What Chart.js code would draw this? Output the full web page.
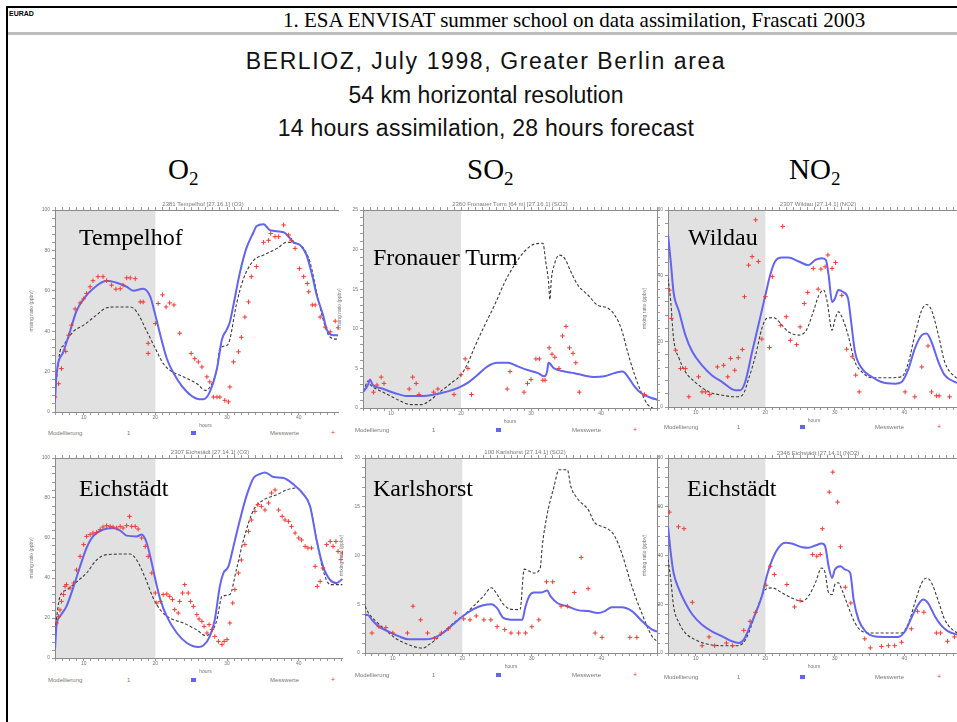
<!DOCTYPE html>
<html><head><meta charset="utf-8">
<script src="https://cdn.jsdelivr.net/npm/chart.js@4/dist/chart.umd.min.js"></script>
<style>
html,body{margin:0;padding:0;background:#fff;width:957px;height:722px;overflow:hidden;}
body{position:relative;font-family:"Liberation Sans",Arial,sans-serif;}
.abs{position:absolute;white-space:nowrap;}
.serif{font-family:"Liberation Serif","Times New Roman",serif;}
.tiny{font-size:6px;color:#777;font-family:"Liberation Sans",Arial,sans-serif;}
.clip{position:absolute;overflow:hidden;}
.clip canvas{position:absolute;left:0;top:0;}
</style></head>
<body>
<div class="abs" style="left:6px;top:6px;width:951px;height:2px;background:#000"></div>
<div class="abs" style="left:6px;top:6px;width:2px;height:716px;background:#000"></div>
<div class="abs" style="left:8px;top:32px;width:949px;height:3px;background:#bdbdbd"></div>
<div class="abs" style="left:9px;top:10px;font-size:7px;font-weight:bold;color:#000">EURAD</div>
<div class="abs serif" style="left:283px;top:8px;font-size:21px;line-height:24px;color:#000">1. ESA ENVISAT summer school on data assimilation, Frascati 2003</div>

<div class="abs" style="left:0;width:972px;top:48px;font-size:23px;letter-spacing:1.6px;text-align:center;color:#111">BERLIOZ, July 1998, Greater Berlin area</div>
<div class="abs" style="left:0;width:972px;top:82px;font-size:23px;text-align:center;color:#111">54 km horizontal resolution</div>
<div class="abs" style="left:0;width:972px;top:115px;font-size:23px;letter-spacing:0.25px;text-align:center;color:#111">14 hours assimilation, 28 hours forecast</div>

<div class="abs serif" style="left:168px;top:153px;font-size:29px;color:#000">O<sub style="font-size:19px;vertical-align:-6px">2</sub></div>
<div class="abs serif" style="left:467px;top:153px;font-size:29px;color:#000">SO<sub style="font-size:19px;vertical-align:-6px">2</sub></div>
<div class="abs serif" style="left:789px;top:153px;font-size:29px;color:#000">NO<sub style="font-size:19px;vertical-align:-6px">2</sub></div>

<div id="stage"></div>

<script>
// ---------- shared axis values ----------
const hourRange = [6, 48];
const hourTicks = [10, 20, 30, 40];
const assimStart = 6;
const assimEnd = 20;
const o3Ticks = [0, 20, 40, 60, 80, 100];
const so2TicksTop = [0, 5, 10, 15, 20, 25];
const no2TicksTop = [0, 20, 40, 60];
const so2TicksBottom = [0, 5, 10, 15, 20];
const no2TicksBottom = [0, 20, 40, 60, 80];

const stationNames = ["Tempelhof", "Fronauer Turm", "Wildau", "Eichstädt", "Karlshorst", "Eichstädt"];
const chartTitles = ["2381 Tempelhof [27.16.1] (O3)", "2360 Fronauer Turm [64 m] [27.16.1] (SO2)", "2307 Wildau [27.14.1] (NO2)",
                     "2307 Eichstädt [27.14.1] (O3)", "100 Karlshorst [27.14.1] (SO2)", "2346 Eichstädt [27.14.1] (NO2)"];
const legendLabels = ["Modellierung", "1", "Messwerte"];
const xTitle = "hours";
const yTitle = "mixing ratio (ppbv)";

// ---------- Tempelhof O3 ----------
const tempelhofModel = [[6,10],[6.7,30],[7.2,33],[8.6,40],[10,43],[11.8,48],[13.2,51.6],[14.6,52],[16.5,52],[17.4,49.6],[18.8,40],[20.2,30],[21.1,24],[22,20.7],[23.9,17.4],[25.8,14],[27,10.7],[27.9,14],[28.6,21.5],[29,31.4],[30,33],[30.4,36],[31.3,53],[32.3,66],[33.7,75],[35.1,77.7],[37,81],[38.3,84],[39.7,83.5],[40.7,81],[41.6,74],[42.5,59.5],[43.4,46],[44.4,37],[45.5,36]];
const tempelhofAssim = [[6,5],[6.2,18],[7.2,30],[8.1,40],[9,50],[10,56],[11.3,61],[13.2,65],[14.6,64],[16,62],[16.9,60],[18.3,61],[19.3,57],[20,48],[20.7,38],[21.6,26.5],[23,16.5],[24.4,10],[25.8,6.6],[26.7,6.3],[27.6,10],[28.6,21.5],[29.3,36],[30,41],[30.4,44.6],[30.9,53],[31.8,69],[32.7,81],[33.7,89],[34.1,92],[35.1,93],[36,90],[37.9,89],[39.3,84],[40.2,82.6],[41.1,77.7],[42,66],[42.5,58],[43.4,48],[43.9,41],[44.8,38],[45.5,38]];
const tempelhofObs = [[6,7.4],[6.5,14],[6.9,21.5],[7.5,30],[7.9,38],[8.3,43],[8.8,51],[9.5,54],[10,56],[10.4,58.7],[10.9,62],[11.3,65],[12,67],[12.7,67],[13.2,65],[13.9,62.8],[14.5,60.8],[15.1,61],[15.5,62.8],[16,66.4],[16.5,66.4],[17.2,66],[17.9,54.5],[18.3,54.5],[19,34],[19,29],[20,43.8],[20.4,53.7],[21,58],[21.5,52],[22,54],[22.6,53],[23.4,39],[25,29],[25.5,26.4],[26,24.8],[26.5,22.3],[27.2,17.4],[27.6,14.9],[28.1,7.4],[28.6,7.4],[29,7.4],[29.7,5.8],[30.2,5],[30.4,12.4],[30.9,24.8],[31.6,29.8],[32,37],[32.5,47],[33,54.5],[33.4,67],[34.1,72],[35.1,84],[35.8,85],[36.1,88.4],[36.7,86.8],[37.2,86.8],[37.9,92.6],[38.6,87.6],[39,85],[39.5,81],[40.1,71],[40.7,67],[41.2,63.6],[41.4,59.5],[41.9,53],[42.3,53],[43,47],[43.7,42],[44.4,39.7],[45.1,45],[45.5,41.7]];

// ---------- Fronauer Turm SO2 ----------
const fronauModel = [[6.1,2.1],[6.7,3.4],[7.1,2.9],[8.6,2.1],[10,1.5],[11.4,0.84],[12.9,0.42],[14.3,0.42],[15.7,1.05],[17.1,2.1],[18.6,3.15],[20,4.2],[21,5.7],[21.9,7.6],[23.3,10.3],[24.8,13],[26.2,15.8],[27.6,18],[29,19.7],[30.5,20.7],[31.7,20.8],[32.1,18.5],[32.5,16],[32.7,13.7],[32.9,16.2],[33.3,18],[34,19.3],[34.8,18.9],[35.7,17.2],[36.7,15.5],[38.1,14.3],[39.5,13],[41,12.6],[41.9,11.8],[42.9,10],[43.8,7.1],[44.8,4.2],[45.7,2.1],[46.7,0.4],[47.4,0]];
const fronauAssim = [[6.1,2.1],[6.7,2.9],[7,3.6],[7.4,2.9],[8.6,2.5],[10.5,1.9],[12.4,1.5],[14.3,1.5],[16.2,1.7],[18.1,2.1],[19.5,2.5],[21,3.2],[22.4,4.2],[23.8,5.25],[25.2,5.7],[26.7,5.7],[28.1,5.25],[29.5,4.8],[31,4.4],[31.9,4],[32.3,4.6],[32.5,5.7],[33.3,5],[34.8,4.6],[36.2,4.4],[37.6,4.1],[39,3.9],[40.5,4],[41.9,4.4],[43.1,4.6],[43.8,4],[44.8,2.7],[45.7,1.9],[47.1,1.3],[48,1.05]];
const fronauObs = [[7.5,2],[8,2.9],[8.6,3.9],[9,3.1],[12.6,2.4],[13.1,3.9],[13.6,3.1],[14,1.7],[16.1,2],[16.7,2.4],[19,1.7],[20,4.2],[20.6,6.2],[21,5],[21.5,1.7],[26.6,2.4],[27,4.6],[29,2],[29.5,3.1],[30,3.6],[30.7,6.2],[31.2,6.2],[31.7,3.5],[32,3.5],[32.6,7.6],[33,6.8],[33.4,6.4],[34,5],[34.5,9.1],[35,10.3],[35.5,7.6],[36,6.9],[36.4,5.7],[36.9,2],[46.2,1.7]];

// ---------- Wildau NO2 ----------
const wildauModel = [[6,39.2],[6.4,32],[6.8,20.9],[7.6,14.8],[8.5,10.7],[9.9,7.6],[11.9,4.6],[13.8,3.6],[15.7,3.1],[16.7,3.6],[17.6,8.6],[18.6,15.8],[19.5,23.9],[20.2,27],[21.2,27.2],[22.2,25.4],[23.3,22.9],[24.8,21.9],[25.9,23.4],[26.9,29],[27.7,34],[28.4,35.6],[28.9,32],[29.6,23.4],[30,26.5],[30.5,29],[31.2,26.5],[31.9,21.9],[32.9,13.7],[33.9,10.7],[35.3,8.9],[37.7,8.9],[39.6,9.2],[40.6,13.7],[41.5,21.9],[42.5,29.5],[43.2,31.2],[43.9,29.5],[44.9,21.9],[45.8,13.7],[47.3,9.2],[48,8.5]];
const wildauAssim = [[6,52.4],[6.4,44.3],[6.8,35],[7.6,29],[8.5,21.9],[9.5,16.8],[10.9,12.7],[12.3,9.7],[13.8,7.6],[15.7,5.1],[16.4,5.1],[17.1,7.6],[18.1,16.8],[19,24.9],[20,34],[20.7,40.2],[21.4,44.3],[22.4,45.5],[23.3,45.5],[24.8,44.3],[26.2,43.2],[27.2,44.8],[28.1,45.3],[28.7,44.8],[29.1,40.2],[29.6,32],[30,33],[30.5,35.6],[31.2,35],[31.9,33],[32.4,24.9],[32.9,16.8],[33.9,11.7],[35.3,9.2],[36.7,7.6],[38.7,7.1],[39.6,7.6],[40.6,11.7],[41.5,17.8],[42.5,21.9],[43.2,22.4],[43.9,19.8],[44.9,13.7],[45.8,9.7],[47.3,7.6],[48,7.2]];
const wildauObs = [[6.2,35.6],[6.5,27],[7.1,17.3],[7.8,11.7],[8.5,11.7],[9,3.1],[10.4,9.2],[10.9,4.6],[11.4,4.6],[12,3.8],[13.1,12.2],[14,12.7],[14.6,9.2],[15,14.8],[15.6,11.2],[16.1,15],[16.7,17.5],[17,33.6],[17.6,43.2],[18.1,45.8],[18.6,57],[19,44.3],[19.5,20.7],[20,33.6],[20.6,18.1],[21,39.7],[22.2,24.9],[22.5,55],[23,27.5],[23.6,20.3],[24.5,19],[25,24.4],[25.6,31.5],[26.1,34.9],[26.9,42.2],[27.6,35.9],[28,42],[28.6,42.7],[29,46.3],[29.6,42.2],[30.1,44],[31,34],[31.7,17.6],[32.5,15.3],[33,9.7],[33.5,4.6],[40.1,4.6],[41.5,3.1],[42.5,12.2],[43.4,18.6],[43.9,4.6],[44.6,3.4],[45,3.4],[46.5,3.1]];

// ---------- Eichstädt O3 ----------
const eichO3Model = [[6,14],[6.7,30.8],[7.6,34],[9,38],[10.4,42.5],[11.8,49],[13.2,51.7],[16.5,52],[17.4,49],[18.6,40],[19.7,30],[20.7,24],[22,20],[23.9,17.5],[25.8,14],[27,11.2],[27.9,13.3],[28.6,19.2],[29.3,30.8],[30.4,31.7],[31.3,44],[32.3,59],[33.7,74],[35.1,79],[37,81.7],[38.3,84],[39.7,85],[40.7,81.7],[41.6,75.8],[42.5,59],[43.4,44],[44.4,36.7],[46.1,36.7]];
const eichO3Assim = [[6,4.2],[6.2,15.8],[6.7,20.8],[7.6,25.8],[8.6,35.8],[9.5,45.8],[10.4,55],[11.3,60.8],[12.7,64.2],[14.1,65],[15.1,63.7],[16,61.2],[17.4,60.8],[18.1,61.7],[18.8,57.5],[19.5,47.5],[20,39.2],[20.7,29.2],[21.6,20.8],[23,12.5],[24.4,7.5],[26,5.5],[26.7,6.2],[27.6,10.8],[28.3,19.2],[29,35.8],[29.5,42.5],[30.2,45.8],[30.9,55.8],[31.8,69],[32.7,80.8],[33.7,90],[34.6,92],[35.3,92.8],[36.5,90.5],[37.9,90],[39.3,86.7],[40.7,81.7],[41.6,75.8],[42.5,59],[43.4,45.8],[44.4,39],[45.3,37.5],[46.1,39.5]];
const eichO3Obs = [[6.2,17.5],[6.5,20.8],[6.7,24],[6.9,28.3],[7.2,31.7],[7.4,35.8],[7.6,36.7],[8.1,35],[8.6,37.5],[9,44],[9.5,50.8],[10,56.7],[10.4,60.8],[10.9,61.7],[11.3,62.5],[11.8,62.8],[12.3,64.2],[12.7,65.5],[13.2,66.2],[13.7,65.8],[14.1,65.5],[14.6,65],[15.1,65.8],[15.5,65],[16,66.2],[16.4,70.8],[16.7,65.8],[17.2,65.8],[17.6,64.5],[18.1,60],[18.6,55.8],[19,50.8],[19.5,42.5],[20,32.5],[20.2,27.5],[20.7,28.3],[21.1,31.7],[21.6,32],[22,30.8],[22.4,29.2],[22.7,24.2],[23.2,22.5],[23.4,28.3],[23.8,32.5],[24.1,36.7],[24.6,32.5],[24.9,28.3],[25.3,25.8],[25.8,21.7],[26.1,19.5],[26.5,18.3],[26.8,15.8],[27.2,12.5],[27.5,16.7],[27.9,14.2],[28.3,10.8],[28.8,8.3],[29.3,6.7],[29.6,8.3],[30,9.2],[30.4,17.5],[30.8,27.5],[31.1,34.2],[31.6,42.5],[32,49],[32.5,56.7],[33,63.3],[33.4,69],[33.9,73.3],[34.3,76.7],[34.8,75.8],[35.3,74],[35.8,77.5],[36.2,82.5],[36.7,84],[37.2,74],[37.7,70.8],[38.1,69],[38.6,68.3],[39,65.8],[39.5,62.5],[40,60],[40.4,59],[40.9,55.8],[41.3,55],[41.8,55],[42.3,45.8],[42.6,35.8],[43,38.3],[43.4,45],[43.9,56.7],[44.4,58.3],[44.8,55.8],[45.2,58.3],[45.5,53.3],[45.9,49.2],[46.1,52.5]];

// ---------- Karlshorst SO2 ----------
const karlsModel = [[6,4.8],[6.5,4.1],[7.5,3.3],[8.9,2.4],[10.4,1.5],[11.8,1.0],[13.3,0.6],[14.3,0.5],[15.2,0.86],[16.2,1.4],[17.7,2.4],[19.1,3.3],[20.1,3.8],[21.6,4.8],[23,5.8],[24.2,6.7],[25,6],[25.9,5],[26.9,4.5],[28.3,4.45],[28.9,8.6],[29.6,8.4],[30.3,8.2],[31.2,8.7],[31.5,11],[32.2,14.2],[33.2,17.1],[33.9,18.8],[35.1,18.8],[35.6,17.1],[36.6,15.8],[38.1,14.7],[39,13.4],[40,13],[41,12.7],[41.9,12],[42.9,10.3],[44.4,6.8],[45.8,4.1],[47.3,1.7],[48,1.2]];
const karlsAssim = [[6,3.9],[6.4,3.9],[7,3.4],[8,2.7],[9.4,2.2],[10.9,1.7],[12.3,1.4],[14.3,1.4],[15.7,1.5],[17.2,2.05],[18.6,2.9],[20.1,3.8],[21.6,4.5],[23,4.9],[24.2,5],[25,4.6],[25.9,3.6],[27.4,3.4],[28.6,3.4],[29.1,4.8],[29.6,5.8],[30.3,6.2],[31.3,6.2],[32.2,6.4],[32.7,5.8],[33.7,5.1],[35.1,4.8],[36.6,4.4],[38.1,4.3],[39.5,4.1],[40.5,4.3],[41.5,4.7],[42.9,4.7],[44.4,4.3],[45.8,3.3],[47.3,2.4],[48,2.2]];
const karlsObs = [[7,2.05],[8,2.7],[9,2.6],[10,2.05],[12.1,2.05],[12.9,4.8],[14,3.4],[15,2.05],[16,1.5],[17,2.05],[18,2.5],[19,4.1],[20.2,3.5],[21.1,3.4],[22,3.8],[23.1,3.4],[24.1,3.4],[25,2.7],[26.1,2.4],[27,2.05],[28.1,2.05],[29.1,2.05],[30,2.7],[31,3.4],[32.1,7.3],[33,7.3],[34.2,4.8],[35.1,4.8],[36.1,6.2],[37.1,9.8],[38.1,6.6],[39.1,2.05],[40.1,1.6],[44.1,1.6],[45.1,1.6]];

// ---------- Eichstädt NO2 ----------
const eichNO2Model = [[6,38.4],[6.4,30.1],[6.8,19.2],[7.6,12.3],[8.5,8.2],[9.9,5.5],[11.4,3.8],[13.8,3],[15.7,3],[16.7,3.8],[17.6,8.2],[18.6,16.4],[19.3,21.9],[20,26],[21,26.7],[22.4,24.7],[23.8,22.6],[25.3,21.2],[26.2,23.3],[27.2,28.8],[28.1,34.9],[28.6,32.9],[29.1,24.7],[29.6,24],[30,28.1],[30.5,28.8],[31,26],[31.9,19.2],[32.9,12.3],[33.9,8.9],[35.3,8.2],[37.7,8.2],[39.6,8.2],[40.6,12.3],[41.5,20.5],[42.5,28.8],[43.2,30.8],[43.9,28.8],[44.9,21.2],[45.8,13.7],[47.6,8.2],[48,7.8]];
const eichNO2Assim = [[6,52],[6.4,41],[6.8,32.9],[7.6,26],[8.5,20.5],[9.5,15.8],[10.9,11.6],[12.3,8.9],[13.8,6.8],[15.2,4.8],[16.2,4.1],[16.9,5.5],[17.8,11],[18.8,17.8],[19.5,23.3],[20.2,31.5],[21,38.4],[21.9,43.2],[22.9,45.2],[23.8,44.9],[25.3,43.4],[26.2,43.2],[27.2,44.1],[28.1,44.9],[28.6,43.8],[29.1,35.6],[29.6,30.8],[30,34.2],[30.8,35.6],[31.5,34.2],[32.2,32.9],[32.7,21.9],[33.4,13.7],[34.4,8.9],[35.8,6.8],[37.7,6.6],[39.1,6.6],[40.1,8.9],[41.1,15],[42,19.9],[42.7,21.9],[43.4,20.5],[44.4,15],[45.4,11],[46.3,8.9],[47.6,7.5],[48,7.2]];
const eichNO2Obs = [[6.2,57.8],[7.5,51.8],[8.3,51],[9.5,20.8],[10.9,3],[11.9,6.6],[12.7,3],[14.4,4.1],[15.3,3],[16.9,9.3],[17.8,13],[18.6,16.7],[20.1,27.8],[20.7,35.6],[21.3,32.2],[23.1,28.1],[24.2,18.9],[25,21.5],[26.8,40.4],[27.4,39.7],[27.9,40.4],[28.2,51],[29.2,66],[29.7,74.2],[30.4,61.9],[30.8,43.6],[31.5,27],[32.3,20.5],[34.3,5.8],[35.1,2.1],[36.7,2.7],[37.7,3],[38.6,3],[39.6,4.4],[41,9.9],[41.9,17.1],[42.8,16.7],[44.6,8.2],[45.2,8.2],[46.2,4.8],[47.2,6.6]];

// ---------- layout (positions only) ----------
const WY = 26, WR = 5, HT = 5, HX = 17;
const panels = [
  {plotL:55,  plotT:210, plotW:301, plotH:202, clipR:339, yTicks:o3Ticks, minor:4, model:tempelhofModel, assim:tempelhofAssim, obs:tempelhofObs, nameX:79, nameY:224, titleX:203, titleY:201, legY:430, legXs:[48,127,191,270,331]},
  {plotL:363, plotT:210, plotW:294, plotH:198, clipR:680, yTicks:so2TicksTop, minor:1, model:fronauModel, assim:fronauAssim, obs:fronauObs, nameX:373, nameY:244, titleX:510, titleY:201, legY:427, legXs:[355,432,496,572,633]},
  {plotL:668, plotT:210, plotW:292, plotH:197, clipR:957, yTicks:no2TicksTop, minor:4, model:wildauModel, assim:wildauAssim, obs:wildauObs, nameX:688, nameY:224, titleX:818, titleY:201, legY:424, legXs:[664,737,800,875,937]},
  {plotL:55,  plotT:458, plotW:301, plotH:200, clipR:343, yTicks:o3Ticks, minor:4, model:eichO3Model, assim:eichO3Assim, obs:eichO3Obs, nameX:79, nameY:475, titleX:210, titleY:449, legY:677, legXs:[48,127,191,270,331]},
  {plotL:365, plotT:458, plotW:292, plotH:195, clipR:680, yTicks:so2TicksBottom, minor:1, model:karlsModel, assim:karlsAssim, obs:karlsObs, nameX:373, nameY:475, titleX:525, titleY:449, legY:672, legXs:[355,432,496,572,633]},
  {plotL:668, plotT:458, plotW:292, plotH:195, clipR:957, yTicks:no2TicksBottom, minor:4, model:eichNO2Model, assim:eichNO2Assim, obs:eichNO2Obs, nameX:687, nameY:475, titleX:818, titleY:450, legY:674, legXs:[664,737,800,875,937]}
];

const shadePlugin = {
  id: 'shade',
  beforeDraw(chart) {
    const {ctx, chartArea: a, scales: {x}} = chart;
    const x0 = x.getPixelForValue(assimStart), x1 = x.getPixelForValue(assimEnd);
    ctx.save();
    ctx.fillStyle = '#e1e1e1';
    ctx.fillRect(x0, a.top, x1 - x0, a.bottom - a.top);
    ctx.restore();
  }
};

const toXY = arr => arr.map(p => ({x: p[0], y: p[1]}));
const tickFont = {family: 'Liberation Sans, Arial', size: 5};
const grid = {drawOnChartArea: false, drawTicks: true, tickLength: 3, color: '#9a9a9a'};
const border = {display: true, color: '#8a8a8a', width: 1};

const stage = document.getElementById('stage');
function addText(cls, x, y, txt, style) {
  const d = document.createElement('div');
  d.className = 'abs ' + cls;
  d.style.left = x + 'px'; d.style.top = y + 'px';
  if (style) d.style.cssText += style;
  d.textContent = txt;
  stage.appendChild(d);
  return d;
}

panels.forEach((p, i) => {
  const cl = p.plotL - WY, ct = p.plotT - HT;
  const cw = WY + p.plotW + WR, ch = HT + p.plotH + HX;
  const wrap = document.createElement('div');
  wrap.className = 'clip';
  wrap.style.left = cl + 'px'; wrap.style.top = ct + 'px';
  wrap.style.width = Math.min(cw, p.clipR - cl) + 'px'; wrap.style.height = ch + 'px';
  const cv = document.createElement('canvas');
  cv.width = cw; cv.height = ch;
  wrap.appendChild(cv);
  stage.appendChild(wrap);

  const ymax = p.yTicks[p.yTicks.length - 1];
  new Chart(cv, {
    data: {
      datasets: [
        {type: 'line', data: toXY(p.model), borderColor: '#3a3a3a', borderWidth: 1.1, borderDash: [3, 2], pointRadius: 0, cubicInterpolationMode: 'monotone', order: 2},
        {type: 'line', data: toXY(p.assim), borderColor: '#6464ee', borderWidth: 2, pointRadius: 0, cubicInterpolationMode: 'monotone', order: 1},
        {type: 'scatter', data: toXY(p.obs), showLine: false, pointStyle: 'cross', pointRadius: 2.3, borderColor: '#ee3b35', backgroundColor: '#ee3b35', borderWidth: 1, order: 0}
      ]
    },
    options: {
      responsive: false, animation: false, devicePixelRatio: 1,
      layout: {padding: 0, autoPadding: false},
      plugins: {legend: {display: false}, tooltip: {enabled: false}},
      scales: {
        x: {type: 'linear', position: 'bottom', min: hourRange[0], max: hourRange[1], grid, border,
            ticks: {stepSize: 1, autoSkip: false, maxRotation: 0, font: tickFont, color: '#777', padding: 0,
                    callback: v => hourTicks.includes(v) ? String(v) : ''},
            title: {display: true, text: xTitle, font: tickFont, color: '#777', padding: 0},
            afterFit: s => { s.height = HX; }},
        x2: {type: 'linear', position: 'top', min: hourRange[0], max: hourRange[1], grid, border,
             ticks: {display: false, stepSize: 1, autoSkip: false},
             afterFit: s => { s.height = HT; }},
        y: {type: 'linear', position: 'left', min: 0, max: ymax, grid, border,
            ticks: {stepSize: p.minor, autoSkip: false, font: tickFont, color: '#777', padding: 2,
                    callback: v => p.yTicks.includes(v) ? String(v) : ''},
            title: {display: true, text: yTitle, font: tickFont, color: '#777', padding: 0},
            afterFit: s => { s.width = WY; }},
        y2: {type: 'linear', position: 'right', min: 0, max: ymax, grid, border,
             ticks: {display: false, stepSize: p.minor, autoSkip: false},
             afterFit: s => { s.width = WR; }}
      }
    },
    plugins: [shadePlugin]
  });

  // texts
  addText('serif', p.nameX, p.nameY, stationNames[i], 'font-size:24px;color:#000;');
  addText('tiny', p.titleX, p.titleY, chartTitles[i], 'transform:translateX(-50%);');
  addText('tiny', p.legXs[0], p.legY, legendLabels[0]);
  addText('tiny', p.legXs[1], p.legY, legendLabels[1]);
  addText('', p.legXs[2], p.legY + 1, '', 'width:5px;height:4px;background:#6464ee;');
  addText('tiny', p.legXs[3], p.legY, legendLabels[2]);
  addText('', p.legXs[4], p.legY - 1, '+', 'font-size:7px;color:#ee3b35;');
});
</script>
</body></html>
